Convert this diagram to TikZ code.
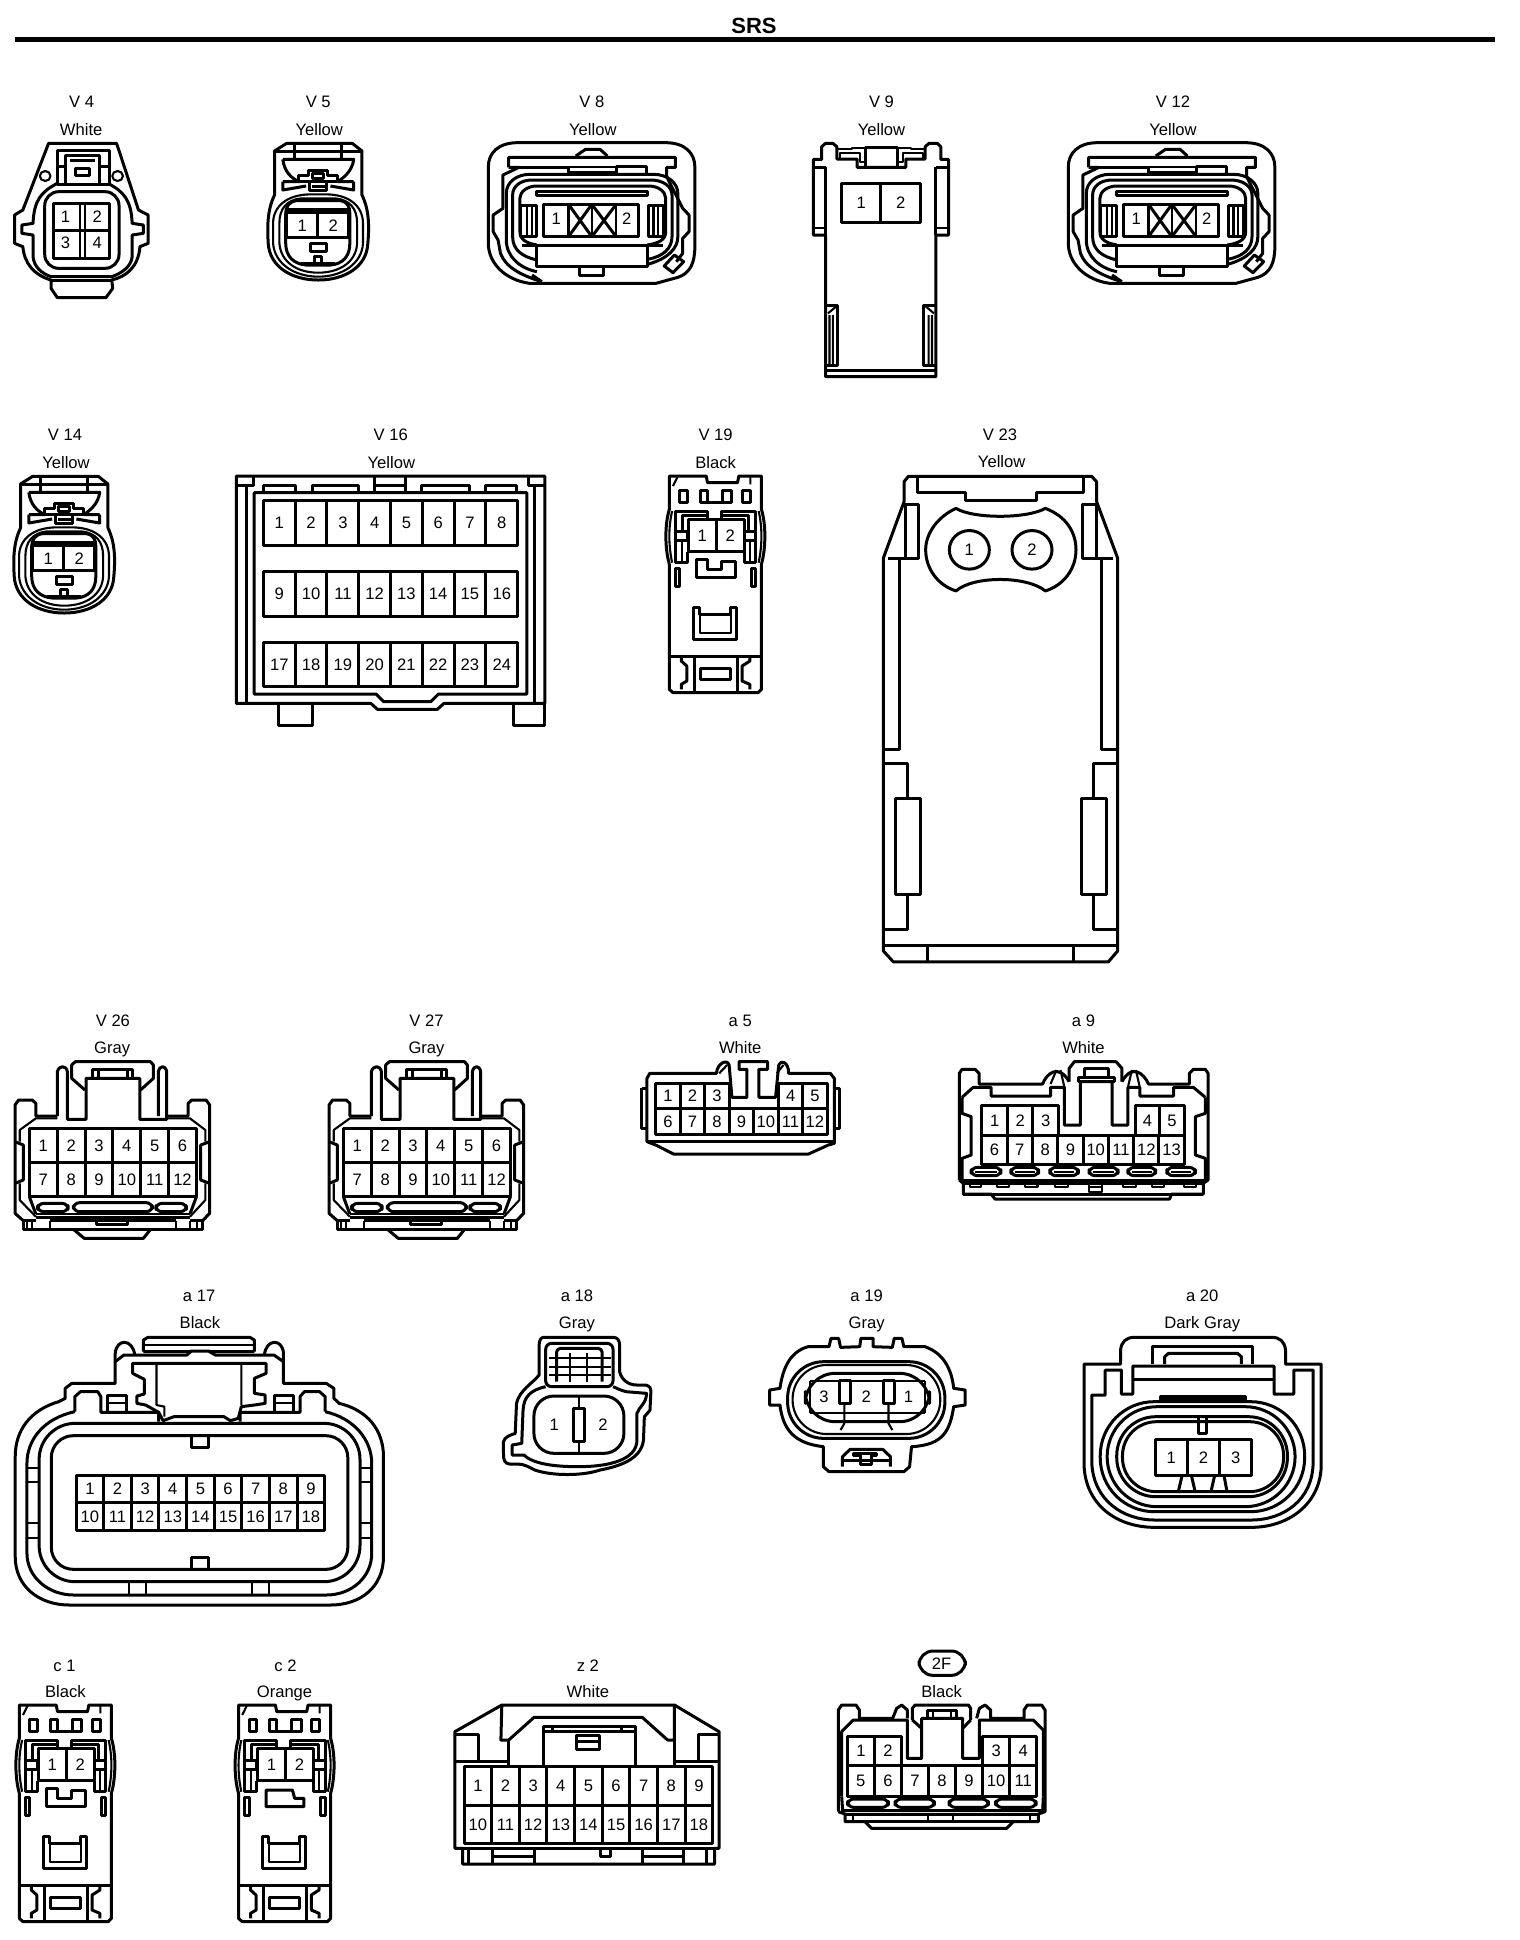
\documentclass[tikz,border=0pt]{standalone}
\usepackage{fontspec}
\setmainfont{Liberation Sans}
\newcounter{nid}
\tikzset{
 tx/.style={inner sep=0pt,text height=6pt,text depth=0pt,font=\fontsize{8.3}{10}\selectfont},
 ln/.style={line width=1.05pt},
 z1/.style={x=.24295pt,y=-.16667pt,yshift=-40pt},
 z2/.style={x=.24295pt,y=-.16667pt,xshift=380pt,yshift=-40pt},
 z3/.style={x=.25575pt,y=-.16667pt,yshift=-210pt},
 z4/.style={x=.16667pt,y=-.18182pt,xshift=430pt,yshift=-210pt},
 z5/.style={x=.17921pt,y=-.16667pt,yshift=-505pt},
 z6/.style={x=.19841pt,y=-.16667pt,xshift=310pt,yshift=-505pt},
 z7/.style={x=.21739pt,y=-.16667pt,yshift=-645pt},
 z8/.style={x=.19179pt,y=-.16667pt,xshift=380pt,yshift=-645pt},
 z9/.style={x=.23020pt,y=-.16667pt,yshift=-830pt},
 z10/.style={x=.16667pt,y=-.16667pt,xshift=410pt,yshift=-830pt},
}
\newcommand\txt[3]{\stepcounter{nid}\node[tx] (n\thenid) at ({#1},{#2}) {#3};}
\newcommand\cellrow[6]{%
 \draw (#1,#2) rectangle (#3,#4);
 \foreach \ii in {1,...,#5}{
  \pgfmathsetmacro\xa{#1+(#3-#1)*(\ii-1)/#5}
  \pgfmathsetmacro\xb{#1+(#3-#1)*\ii/#5}
  \pgfmathtruncatemacro\num{#6+\ii-1}
  \ifnum\ii>1 \draw (\xa,#2)--(\xa,#4);\fi
  \txt{(\xa+\xb)/2}{(#2+#4)/2}{\num}
 }}
% ---- shapes
\newcommand\connVEight{%
 \draw (1065,188)--(1370,188) .. controls (1410,188) and (1430,220) .. (1430,260)--(1430,500) .. controls (1430,550) and (1420,580) .. (1395,592)--(1350,610)--(1090,610) .. controls (1040,600) and (1005,550) .. (1005,490)--(1005,260) .. controls (1005,220) and (1025,188) .. (1065,188)--cycle;
 \draw (1185,228)--(1205,208)--(1235,208)--(1250,228);
 \draw (1047,262)--(1047,232)--(1390,232)--(1390,262)--(1372,262)--(1372,290)--(1405,385)--(1418,405)--(1418,455)--(1405,475)--(1405,520)--(1392,545);
 \draw (1047,262)--(1068,262)--(1035,285)--(1035,385)--(1015,405)--(1015,455)--(1025,480)--(1030,520) .. controls (1040,560) and (1070,585) .. (1115,605);
 \draw (1068,262)--(1170,262)--(1170,278)--(1268,278)--(1268,258)--(1330,258)--(1330,280);
 \draw[ln] (1170,262)--(1268,262);
 \draw (1105,575) .. controls (1070,565) and (1042,530) .. (1042,480)--(1042,340) .. controls (1042,305) and (1065,283) .. (1090,283)--(1345,283) .. controls (1375,283) and (1395,310) .. (1395,340)--(1395,470) .. controls (1395,505) and (1375,535) .. (1335,552);
 \draw (1105,540) .. controls (1075,530) and (1055,510) .. (1055,470)--(1055,345) .. controls (1055,320) and (1070,300) .. (1095,300)--(1340,300) .. controls (1365,300) and (1383,320) .. (1383,345)--(1383,470) .. controls (1383,505) and (1365,530) .. (1332,538);
 \draw (1105,495) .. controls (1085,490) and (1070,480) .. (1070,455)--(1070,355) .. controls (1070,335) and (1085,318) .. (1105,318)--(1335,318) .. controls (1355,318) and (1370,335) .. (1370,355)--(1370,455) .. controls (1370,480) and (1355,490) .. (1332,495);
 \draw (1105,335) rectangle (1332,347);
 \draw (1118,373) rectangle (1315,470);
 \draw[ln] (1170,373)--(1170,470) (1218,373)--(1218,470) (1268,373)--(1268,470);
 \draw (1170,373)--(1218,470) (1218,373)--(1170,470) (1218,373)--(1268,470) (1268,373)--(1218,470);
 \txt{1145}{415}{1}\txt{1290}{415}{2}
 \draw (1072,375) rectangle (1105,470);
 \draw[ln] (1085,375)--(1085,470) (1095,375)--(1095,470);
 \draw (1335,375) rectangle (1365,470);
 \draw[ln] (1345,375)--(1345,470) (1355,375)--(1355,470);
 \draw (1075,495)--(1365,495);
 \draw (1105,495) rectangle (1332,558);
 \draw (1192,560)--(1192,587)--(1242,587)--(1242,560);
 \draw (1388,525)--(1407,545)--(1385,578)--(1367,558)--cycle;
 \draw (1095,585)--(1115,605);
}
\newcommand\connVFive{%
 \draw (590,190)--(725,190)--(745,213)--(745,345) .. controls (760,390) and (760,440) .. (757,490) .. controls (755,560) and (710,600) .. (655,600) .. controls (600,600) and (555,560) .. (552,490) .. controls (550,440) and (550,390) .. (565,345)--(565,213)--cycle;
 \draw (607,190)--(607,238) (703,190)--(703,238) (565,213)--(745,213);
 \draw (582,238)--(728,238) .. controls (725,275) and (705,295) .. (695,305) (582,238) .. controls (585,275) and (600,295) .. (615,305);
 \draw (635,285)--(635,272)--(675,272)--(675,285)--(695,285)--(695,305)--(615,305)--(615,285)--cycle;
 \draw (643,280) rectangle (665,295);
 \draw (637,305)--(637,332)--(672,332)--(672,305) (642,318)--(668,318);
 \draw (582,305)--(582,330)--(630,318) (582,305)--(615,305) (728,305)--(728,330)--(680,318) (728,305)--(695,305);
 \draw[ln] (640,343) .. controls (590,343) and (562,380) .. (562,430)--(562,490) .. controls (565,550) and (605,590) .. (655,590) .. controls (705,590) and (745,550) .. (747,490)--(747,430) .. controls (747,380) and (720,343) .. (670,343)--cycle;
 \draw[ln] (620,355) .. controls (590,360) and (575,385) .. (575,430)--(575,490) .. controls (578,545) and (610,578) .. (655,578) .. controls (700,578) and (733,545) .. (735,490)--(735,430) .. controls (735,385) and (720,360) .. (690,355)--cycle;
 \draw (610,362)--(700,362) .. controls (715,365) and (720,380) .. (720,400)--(720,490) .. controls (720,530) and (705,552) .. (680,555)--(630,555) .. controls (605,552) and (588,530) .. (588,490)--(588,400) .. controls (588,380) and (595,365) .. (610,362)--cycle;
 \draw (590,388)--(718,388);
 \cellrow{590}{398}{718}{473}{2}{1}
 \draw (638,490) rectangle (672,515);
 \draw (648,545)--(648,530)--(662,530)--(662,545);
 \draw (620,550)--(690,550);
}
\newcommand\connClip[1]{%
 \draw (42,135)--(122,135)--(125,155)--(190,155)--(193,135)--(242,135)--(242,235) .. controls (252,280) and (252,350) .. (242,400)--(242,775)--(235,785)--(50,785)--(42,775)--(42,400) .. controls (32,350) and (32,280) .. (42,235)--cycle;
 \draw[ln] (60,137)--(50,165) (218,137)--(218,160);
 \draw (65,178) rectangle (82,215) (200,178) rectangle (218,215);
 \draw (125,215)--(110,215)--(110,178)--(125,178)--(125,215)--(157,215)--(157,178)--(178,178)--(178,215)--(157,215);
 \draw[ln] (48,240) .. controls (40,290) and (40,340) .. (48,395) (236,240) .. controls (244,290) and (244,340) .. (236,395);
 \draw (55,300)--(55,240)--(125,240)--(125,265) (155,265)--(155,240)--(230,240)--(230,300);
 \draw (70,300)--(70,252)--(125,252) (155,252)--(215,252)--(215,300);
 \cellrow{83}{265}{205}{362}{2}{1}
 \draw (55,300) rectangle (82,328) (205,300) rectangle (230,328);
 \draw (55,328)--(55,395)--(82,395)--(82,362) (205,362)--(205,395)--(230,395)--(230,328);
 \draw[ln] (70,328)--(70,395) (217,328)--(217,395);
 \ifnum#1=0
 \draw (100,385)--(125,385)--(125,415)--(155,415)--(155,390)--(185,390)--(185,440)--(100,440)--cycle;
 \else
 \draw (102,390)--(159,390)--(164,415)--(184,415)--(184,440)--(102,440)--cycle;
 \fi
 \draw (55,412) rectangle (65,465) (220,412) rectangle (230,465);
 \draw (95,530)--(108,530)--(108,550)--(175,550)--(175,530)--(188,530)--(188,625)--(95,625)--cycle;
 \draw[ln] (108,550)--(108,605)--(175,605)--(175,550);
 \draw (42,675)--(242,675);
 \draw (110,712) rectangle (175,745);
 \draw (97,678)--(97,780) (190,678)--(190,780);
 \draw (68,678)--(68,690)--(80,705)--(80,750)--(68,760)--(68,775);
 \draw (217,678)--(217,690)--(200,705)--(200,750)--(217,760)--(217,775);
}
\newcommand\connVTwoSix{%
 \draw (160,318)--(160,185) .. controls (165,165) and (185,165) .. (188,185)--(188,328)--(240,328)--(240,205)--(390,205)--(390,328)--(465,328)--(465,185) .. controls (462,165) and (445,165) .. (442,185)--(442,318);
 \draw (237,240)--(200,205)--(200,165)--(210,155)--(420,155)--(428,165)--(428,205)--(392,240);
 \draw (258,205)--(258,178)--(370,178)--(370,205) (275,178)--(275,205) (355,178)--(355,205);
 \draw (160,318)--(100,318)--(100,280)--(90,270)--(52,270)--(42,285)--(42,610)--(65,632);
 \draw (465,318)--(525,318)--(525,280)--(535,270)--(575,270)--(585,285)--(585,610)--(565,632);
 \draw (42,395)--(65,405)--(65,510)--(42,520) (585,395)--(560,405)--(560,510)--(585,520);
 \draw[ln] (55,395)--(55,360)--(100,325)--(160,325) (573,395)--(573,360)--(530,325)--(465,325);
 \draw[ln] (55,520)--(55,570)--(100,620) (573,520)--(573,570)--(530,620);
 \cellrow{82}{355}{548}{458}{6}{1}
 \cellrow{82}{458}{548}{560}{6}{7}
 \draw (82,560)--(100,612) (548,560)--(530,612);
 \draw[rounded corners=3pt] (105,580) rectangle (190,605) (205,578) rectangle (425,605) (435,580) rectangle (520,605);
 \draw[ln] (100,612)--(530,612);
 \draw (100,622)--(530,622);
 \draw (65,632)--(65,658)--(565,658)--(565,632) (65,632)--(100,632) (140,632)--(490,632) (530,632)--(565,632);
 \draw (205,658)--(235,685)--(400,685)--(420,658);
 \draw[ln] (75,632)--(75,658) (90,632)--(90,658) (140,632)--(140,658) (490,632)--(490,658) (530,632)--(530,658) (550,632)--(550,658);
 \draw (270,632)--(270,642)--(355,642)--(355,632);
}
\begin{document}
\begin{tikzpicture}[x=1pt,y=1pt,line width=1.5pt,line join=round]
\useasboundingbox (0,0) rectangle (760,-970);
\fill[white] (0,0) rectangle (760,-970);
\node[inner sep=0pt,font=\fontsize{11}{13}\selectfont\bfseries] (title) at (377,-13) {SRS};
\coordinate (ruleL) at (7.4,-19.8);
\coordinate (ruleR) at (747.5,-19.8);
\draw[line width=2.6pt] (ruleL)--(ruleR);

% ===== row 1
\begin{scope}[z1]
\txt{168}{63}{V 4}\txt{167}{147}{White}
\txt{655}{63}{V 5}\txt{657}{147}{Yellow}
\txt{1218}{63}{V 8}\txt{1220}{147}{Yellow}
% V4
\draw (100,190)--(240,190)--(285,390)--(305,405)--(305,490)--(288,500) .. controls (285,560) and (260,590) .. (230,600)--(232,625)--(218,653)--(118,653)--(105,625)--(105,600) .. controls (70,585) and (50,550) .. (47,500)--(30,490)--(30,405)--(47,390)--cycle;
\draw (118,310) .. controls (85,335) and (70,360) .. (68,430)--(45,435)--(45,460)--(68,465)--(68,530) .. controls (70,560) and (85,580) .. (105,590)--(230,590) .. controls (250,580) and (270,560) .. (272,530)--(272,465)--(295,460)--(295,435)--(272,430) .. controls (270,360) and (255,335) .. (222,310);
\draw (118,310)--(118,210)--(225,210)--(225,310);
\draw (135,312)--(135,225)--(205,225)--(205,312);
\draw (118,260)--(135,260) (205,260)--(225,260);
\draw (155,265)--(155,285)--(185,285)--(185,265)--cycle (145,240)--(195,240);
\draw (118,312)--(225,312);
\draw (105,600)--(230,600);
\draw[ln] (93,288) ellipse [x radius=11,y radius=15] (242,288) ellipse [x radius=11,y radius=15];
\draw[rounded corners=7pt] (92,335) rectangle (245,565);
\draw (110,370) rectangle (225,535);
\draw (110,450)--(225,450);
\draw[ln] (165,370)--(165,535) (175,370)--(175,535);
\txt{135}{408}{1}\txt{200}{408}{2}\txt{135}{488}{3}\txt{200}{488}{4}
\connVFive
\connVEight
\end{scope}
\begin{scope}[z1,xshift=290pt]
\connVEight
\end{scope}
\begin{scope}[z1,xshift=-127pt,yshift=-166.5pt]
\connVFive
\end{scope}

\begin{scope}[z2]
\txt{250}{63}{V 9}\txt{250}{147}{Yellow}
\txt{850}{63}{V 12}\txt{850}{147}{Yellow}
\draw (135,890)--(135,465)--(110,465)--(110,238)--(127,238)--(127,200)--(135,190)--(150,190)--(158,200)--(158,237)--(200,237)--(200,262)--(300,262)--(300,237)--(340,237)--(340,200)--(348,190)--(365,190)--(372,200)--(372,238)--(388,238)--(388,465)--(362,465)--(362,890)--cycle;
\draw (135,262)--(135,465) (362,262)--(362,465) (110,262)--(135,262) (362,262)--(388,262);
\draw[ln] (110,445)--(135,445) (362,445)--(388,445);
\draw (218,203) rectangle (283,262);
\draw[ln] (165,237)--(165,218)--(205,218)--(205,245)--(218,245) (158,207)--(190,207)--(190,205)--(218,205) (335,237)--(335,218)--(295,218)--(295,245)--(283,245) (340,207)--(310,207)--(310,205)--(283,205);
\cellrow{168}{310}{330}{427}{2}{1}
\draw (135,675)--(160,675)--(160,855)--(135,855) (362,675)--(337,675)--(337,855)--(362,855);
\draw[ln] (140,700)--(158,678) (143,705)--(143,855) (150,705)--(150,855) (358,700)--(340,678) (347,705)--(347,855) (354,705)--(354,855);
\draw (135,870)--(362,870);
\end{scope}

% ===== row 2
\begin{scope}[z3]
\txt{127}{43}{V 14}\txt{129}{127}{Yellow}
\txt{764}{43}{V 16}\txt{765}{127}{Yellow}
\txt{1399}{43}{V 19}\txt{1399}{127}{Black}
\draw (462,168)--(1065,168)--(1065,850)--(868,850)--(855,868)--(738,868)--(725,850)--(462,850)--cycle;
\draw (545,850)--(545,915)--(610,915)--(610,850) (1003,850)--(1003,915)--(1065,915)--(1065,850);
\draw (482,195)--(482,850) (1045,195)--(1045,850) (462,195)--(495,195)--(495,168) (1033,168)--(1033,195)--(1065,195);
\draw (497,218)--(1030,218)--(1030,822)--(857,822)--(842,845)--(750,845)--(735,822)--(497,822)--cycle;
\draw (515,218)--(515,195)--(578,195)--(578,218) (610,218)--(610,195)--(700,195)--(700,218) (733,168)--(733,218) (793,168)--(793,218) (733,195)--(793,195) (825,218)--(825,195)--(918,195)--(918,218) (950,218)--(950,195)--(1010,195)--(1010,218);
\cellrow{515}{240}{1012}{375}{8}{1}
\cellrow{515}{453}{1012}{588}{8}{9}
\cellrow{515}{666}{1012}{798}{8}{17}
\end{scope}
\begin{scope}[z9,xshift=325pt,yshift=614.5pt]
\connClip{0}
\end{scope}

\begin{scope}[z4]
\txt{420}{40}{V 23}\txt{425}{115}{Yellow}
\draw (145,155)--(695,155)--(710,170)--(710,225)--(773,380)--(773,1460)--(745,1490)--(100,1490)--(70,1460)--(70,380)--(132,225)--(132,170)--cycle;
\draw (172,155)--(172,200)--(315,200)--(315,222)--(530,222)--(530,200)--(670,200)--(670,155);
\draw (135,232) rectangle (175,382) (668,232) rectangle (708,382);
\draw (85,382)--(175,382) (668,382)--(758,382);
\draw (118,382)--(118,905)--(70,905) (725,382)--(725,905)--(773,905);
\draw (70,945)--(143,945)--(143,1042) (143,1305)--(143,1402)--(70,1402);
\draw (105,1042) rectangle (180,1305) (663,1042) rectangle (738,1305);
\draw (773,945)--(700,945)--(700,1042) (700,1305)--(700,1402)--(773,1402);
\draw (70,1445)--(773,1445) (203,1445)--(203,1490) (640,1445)--(640,1490);
\draw (288,243) .. controls (340,272) and (500,272) .. (556,243) .. controls (620,265) and (648,310) .. (648,357) .. controls (648,410) and (610,455) .. (556,470) .. controls (500,428) and (340,428) .. (288,470) .. controls (235,455) and (197,410) .. (197,357) .. controls (197,310) and (235,265) .. (288,243)--cycle;
\draw (328,357) ellipse [x radius=60,y radius=53] (516,357) ellipse [x radius=60,y radius=53];
\txt{328}{355}{1}\txt{516}{355}{2}
\end{scope}

% ===== row 3
\begin{scope}[z5]
\txt{315}{30}{V 26}\txt{313}{112}{Gray}
\txt{1190}{30}{V 27}\txt{1190}{112}{Gray}
\connVTwoSix
\end{scope}
\begin{scope}[z5,xshift=157pt]
\connVTwoSix
\end{scope}

\begin{scope}[z6]
\txt{303}{32}{a 5}\txt{303}{112}{White}
\txt{1168}{32}{a 9}\txt{1168}{112}{White}
% a5
\draw (68,205)--(75,190)--(243,190) .. controls (245,160) and (270,145) .. (275,165)--(282,262)--(320,262)--(320,178)--(300,178)--(300,155)--(372,155)--(372,178)--(350,178)--(350,262)--(392,262)--(400,165) .. controls (405,148) and (425,155) .. (425,190)--(530,190)--(540,205)--(540,400)--(525,405)--(475,432)--(135,432)--(90,405)--(68,395)--cycle;
\draw[ln] (250,190)--(270,165) (395,190)--(412,165);
\draw (55,235)--(68,235) (55,235)--(55,355)--(68,355) (540,235)--(553,235)--(553,355)--(540,355);
\draw (68,395)--(540,395);
\cellrow{90}{220}{275}{295}{3}{1}
\cellrow{400}{220}{522}{295}{2}{4}
\cellrow{90}{295}{522}{372}{7}{6}
% a9
\draw (855,510)--(855,190)--(862,178)--(895,178)--(905,190)--(905,222)--(1065,222) .. controls (1075,190) and (1105,160) .. (1132,215);
\draw (1132,215)--(1132,175)--(1145,155)--(1250,155)--(1265,175)--(1265,215);
\draw (1265,215) .. controls (1290,160) and (1320,190) .. (1332,222)--(1435,222)--(1435,190)--(1445,178)--(1475,178)--(1482,190)--(1482,510)--(1470,520)--(1470,552)--(1390,552)--(1385,567)--(945,567)--(935,552)--(865,552)--(865,520)--(855,510);
\draw (862,262)--(890,232)--(935,232)--(935,258)--(1085,258)--(1085,232)--(1120,232)--(1120,345)--(1160,345)--(1160,215)--(1240,215)--(1240,345)--(1280,345)--(1280,232)--(1310,232)--(1310,258)--(1395,258)--(1395,232)--(1445,232)--(1475,262);
\draw[ln] (1085,222)--(1100,180) (1110,180)--(1120,232) (1280,232)--(1290,180) (1300,180)--(1310,232);
\draw (1155,215)--(1155,203)--(1245,203)--(1245,215)--cycle (1170,203)--(1170,175)--(1230,175)--(1230,203);
\draw (862,262)--(862,310)--(885,320)--(885,435)--(862,445)--(862,510);
\draw (1475,262)--(1475,310)--(1450,320)--(1450,435)--(1475,445)--(1475,510);
\cellrow{912}{285}{1105}{375}{3}{1}
\cellrow{1298}{285}{1422}{375}{2}{4}
\cellrow{912}{375}{1422}{463}{8}{6}
\foreach \xl/\xr in {885/960,985/1055,1083/1155,1182/1255,1280/1350,1378/1450}{
 \draw[rounded corners=3pt] (\xl,472) rectangle (\xr,497);
 \draw[ln] (\xl+10,485)--(\xr-10,485);
}
\draw (855,510)--(1482,510) (865,520)--(1470,520) (865,552)--(1470,552);
\foreach \xl/\xr in {882/910,950/980,1020/1052,1097/1130,1268/1300,1340/1372,1422/1452}{
 \draw[ln] (\xl,520)--(\xl,532)--(\xr,532)--(\xr,520);
}
\draw[ln] (1183,520) rectangle (1215,545) (1183,532)--(1215,532);
\end{scope}

% ===== row 4
\begin{scope}[z7]
\txt{458}{15}{a 17}\txt{460}{98}{Black}
\txt{1327}{15}{a 18}\txt{1327}{98}{Gray}
% a17
\draw (265,280)--(165,280)--(150,295)--(150,325)--(135,335) .. controls (70,360) and (35,420) .. (35,500)--(35,800) .. controls (35,890) and (90,945) .. (160,945)--(760,945) .. controls (830,945) and (882,890) .. (882,800)--(882,500) .. controls (882,420) and (845,360) .. (780,340)--(768,325)--(768,295)--(750,280)--(652,280)--(652,215)--(630,195)--(495,195)--(480,183)--(440,183)--(430,195)--(285,195)--(265,215)--cycle;
\draw (265,215)--(265,190) .. controls (268,145) and (305,145) .. (310,195) (652,215)--(652,190) .. controls (650,145) and (612,145) .. (608,195);
\draw (330,185)--(330,150)--(340,142)--(575,142)--(585,150)--(585,185) (330,185)--(440,185) (480,185)--(585,185);
\draw[ln] (330,165)--(585,165);
\draw (172,365)--(172,320)--(185,305)--(225,305)--(232,320)--(232,367)--(365,367)--(365,395) (552,395)--(552,367)--(690,367)--(690,320)--(700,305)--(735,305)--(748,320)--(748,365);
\draw (172,365) .. controls (100,385) and (62,450) .. (62,520)--(62,790) .. controls (62,860) and (110,915) .. (170,915)--(750,915) .. controls (810,915) and (855,860) .. (855,790)--(855,520) .. controls (855,450) and (815,385) .. (748,365);
\draw[rounded corners=18pt] (90,400) rectangle (828,875);
\draw[rounded corners=11pt] (118,437) rectangle (800,838);
\draw (440,437)--(440,472)--(480,472)--(480,437) (440,838)--(440,803)--(480,803)--(480,838);
\cellrow{175}{555}{747}{638}{9}{1}
\cellrow{175}{638}{747}{722}{9}{10}
\draw (305,220)--(305,250)--(332,268)--(332,312)--(315,318)--(315,340)--(335,345)--(365,367)--(375,392)--(400,380)--(515,380)--(530,392)--(548,385)--(555,350)--(585,345)--(610,340)--(610,315)--(585,310)--(585,265)--(612,250)--(612,220)--cycle;
\draw[ln] (360,222)--(360,345)--(378,350)--(378,380) (555,222)--(555,345);
\draw (248,365)--(248,315)--(290,315)--(290,365) (632,365)--(632,315)--(675,315)--(675,365);
\draw[ln] (248,340)--(290,340) (632,340)--(675,340);
\draw[ln] (62,535)--(90,535) (62,575)--(90,575) (62,700)--(90,700) (62,745)--(90,745) (828,535)--(855,535) (828,575)--(855,575) (828,700)--(855,700) (828,745)--(855,745);
\draw[ln] (297,875)--(297,915) (335,875)--(335,915) (580,875)--(580,915) (618,875)--(618,915);
% a18
\draw (1250,142)--(1410,142) .. controls (1420,142) and (1425,150) .. (1425,165)--(1425,245) .. controls (1430,270) and (1445,285) .. (1465,285)--(1485,285) .. controls (1495,288) and (1497,295) .. (1497,305)--(1495,360) .. controls (1492,370) and (1485,372) .. (1482,380)--(1480,450) .. controls (1475,510) and (1420,530) .. (1380,540) .. controls (1340,558) and (1270,558) .. (1230,540) .. controls (1215,530) and (1205,522) .. (1190,522)--(1172,522) .. controls (1160,520) and (1158,510) .. (1158,490)--(1158,455) .. controls (1160,440) and (1175,435) .. (1185,430)--(1188,340) .. controls (1195,300) and (1225,280) .. (1240,255)--(1240,165) .. controls (1240,150) and (1245,142) .. (1250,142)--cycle;
\draw[rounded corners=3pt] (1255,290)--(1255,160)--(1410,160)--(1410,290)--cycle;
\draw[rounded corners=2pt] (1280,275)--(1280,175)--(1385,175)--(1385,275);
\draw[ln] (1262,205)--(1405,205) (1262,230)--(1405,230) (1262,255)--(1405,255) (1312,190)--(1312,275) (1350,190)--(1350,275);
\draw (1255,290) .. controls (1220,300) and (1205,320) .. (1203,360)--(1200,460)--(1178,465)--(1178,495)--(1205,495) .. controls (1225,520) and (1270,530) .. (1330,530) .. controls (1400,530) and (1465,510) .. (1465,450)--(1465,370) .. controls (1470,350) and (1487,340) .. (1487,310)--(1440,305) .. controls (1425,300) and (1420,295) .. (1410,290);
\draw[rounded corners=10pt] (1228,318) rectangle (1435,490);
\draw (1320,355) rectangle (1345,453);
\draw[ln] (1332,320)--(1332,355) (1332,453)--(1332,490);
\txt{1275}{402}{1}\txt{1387}{402}{2}
\end{scope}

\begin{scope}[z8]
\txt{278}{15}{a 19}\txt{278}{98}{Gray}
\txt{1153}{15}{a 20}\txt{1153}{98}{Dark Gray}
% a19
\draw (125,170)--(180,170)--(185,145)--(205,145)--(210,172)--(260,170)--(263,145)--(295,145)--(295,170)--(345,172)--(350,145)--(370,145)--(375,170)--(430,170) .. controls (480,190) and (500,240) .. (505,295)--(535,300)--(535,345)--(505,350) .. controls (495,420) and (480,465) .. (395,470)--(390,530)--(375,545)--(180,545)--(165,530)--(165,470) .. controls (90,460) and (60,420) .. (52,345)--(25,345)--(25,300)--(52,295) .. controls (60,230) and (80,185) .. (125,170)--cycle;
\draw[rounded corners=18pt] (72,215) rectangle (482,445);
\draw[ln,rounded corners=17pt] (85,225) rectangle (470,432);
\draw[rounded corners=15pt] (118,250) rectangle (442,395);
\draw[ln] (130,272)--(430,272) (130,370)--(430,370) (130,272)--(130,370) (430,272)--(430,370);
\draw (207,272) rectangle (235,340) (322,272) rectangle (350,340);
\draw[ln] (220,340)--(220,400)--(210,420) (335,340)--(335,400)--(345,420);
\txt{167}{320}{3}\txt{277}{320}{2}\txt{387}{320}{1}
\draw (215,530)--(215,500)--(235,478)--(320,478)--(340,500)--(340,530);
\draw (215,510)--(340,510);
\draw (245,490)--(305,490)--(305,497)--(290,497)--(290,522)--(262,522)--(262,497)--(245,497)--cycle;
% a20
\draw (845,222)--(940,222)--(940,180) .. controls (942,155) and (955,142) .. (975,142)--(1335,142) .. controls (1355,142) and (1368,155) .. (1370,180)--(1370,222)--(1463,222)--(1463,530) .. controls (1460,640) and (1380,712) .. (1280,712)--(1030,712) .. controls (925,712) and (850,640) .. (845,530)--cycle;
\draw (942,240)--(900,240)--(900,315)--(865,315)--(865,520) .. controls (870,630) and (945,690) .. (1030,690)--(1280,690) .. controls (1365,690) and (1440,630) .. (1442,520)--(1442,240)--(1392,240)--(1392,312)--(1340,312)--(1340,228)--(972,228)--(972,312)--(942,312)--cycle;
\draw (972,268)--(1340,268);
\draw (1022,222)--(1022,168)--(1285,168)--(1285,222);
\draw (1055,222)--(1055,200)--(1065,190)--(1245,190)--(1255,200)--(1255,222);
\draw (1045,318) rectangle (1265,328);
\draw[rounded corners=27pt] (887,335) rectangle (1420,665);
\draw[rounded corners=25pt] (905,350) rectangle (1395,650);
\draw[rounded corners=19.5pt] (930,380) rectangle (1375,620);
\draw[rounded corners=17pt] (945,395) rectangle (1365,605);
\draw (1142,382)--(1142,430)--(1165,430)--(1165,382);
\cellrow{1030}{447}{1282}{555}{3}{1}
\draw (1090,608)--(1100,558) (1135,608)--(1125,558) (1175,608)--(1185,558) (1218,608)--(1210,558);
\end{scope}

% ===== row 5
\begin{scope}[z9]
\txt{140}{15}{c 1}\txt{142}{95}{Black}
\txt{620}{15}{c 2}\txt{618}{95}{Orange}
\txt{1277}{15}{z 2}\txt{1277}{95}{White}
\connClip{0}
\draw (1090,135)--(1465,135)--(1562,215)--(1562,565)--(1552,565)--(1552,612)--(1005,612)--(1005,565)--(988,565)--(988,215)--cycle;
\draw (1090,135)--(1088,240)--(1105,240)--(1160,172)--(1395,172)--(1450,240)--(1465,240)--(1465,135);
\draw (1105,240)--(1105,320) (1465,240)--(1465,320);
\draw (988,222)--(1040,222)--(1040,305) (1517,305)--(1517,222)--(1562,222) (988,305)--(1105,305) (1465,305)--(1562,305);
\draw (1180,315)--(1180,198)--(1380,198)--(1380,315) (1180,215)--(1380,215);
\draw[ln] (1200,198)--(1200,215) (1350,198)--(1350,215);
\draw (1252,225) rectangle (1302,268) (1252,245)--(1302,245);
\cellrow{1008}{320}{1548}{435}{9}{1}
\cellrow{1008}{435}{1548}{550}{9}{10}
\draw (988,565)--(1562,565);
\draw (1018,565)--(1018,612) (1070,565)--(1070,612) (1160,565)--(1160,612) (1070,588)--(1160,588) (1395,565)--(1395,612) (1485,565)--(1485,612) (1395,588)--(1485,588) (1535,565)--(1535,612);
\draw (1305,565)--(1305,590)--(1325,590)--(1325,565);
\end{scope}
\begin{scope}[z9,xshift=109.6pt]
\connClip{1}
\end{scope}

\begin{scope}[z10]
\draw[rounded corners=7pt] (297,-27) rectangle (436,46);
\txt{365}{10}{2F}\txt{365}{95}{Black}
\draw (55,455)--(55,150)--(65,135)--(108,135)--(118,150)--(118,175)--(218,175)--(230,145)--(245,135)--(262,150)--(262,175);
\draw (277,180)--(277,145)--(285,135)--(445,135)--(452,145)--(452,180);
\draw (470,175)--(478,145)--(495,135)--(512,150)--(512,175)--(612,175)--(612,150)--(622,135)--(665,135)--(675,150)--(675,455)--(655,462)--(655,485)--(580,485)--(560,505)--(155,505)--(135,485)--(75,485)--(75,462)--(55,455);
\draw (65,410)--(65,215)--(100,180)--(262,180)--(262,295)--(305,295)--(305,175)--(428,175)--(428,295)--(478,295)--(478,180)--(640,180)--(670,210)--(670,410);
\draw (277,180)--(305,205) (452,180)--(428,205);
\draw (322,175)--(322,152)--(410,152)--(410,175);
\draw[ln] (340,152)--(340,175) (392,152)--(392,175);
\cellrow{82}{228}{245}{315}{2}{1}
\cellrow{488}{228}{650}{315}{2}{3}
\cellrow{82}{315}{650}{408}{7}{5}
\draw[rounded corners=3pt] (83,417) rectangle (205,442) (225,417) rectangle (343,442) (387,417) rectangle (505,442) (527,417) rectangle (648,442);
\draw (65,410)--(68,452)--(668,452)--(670,410);
\draw (75,462)--(655,462) (75,485)--(655,485);
\draw[ln] (100,462)--(100,485) (325,462)--(325,485) (400,462)--(400,485) (630,462)--(630,485);
\end{scope}
\end{tikzpicture}
\end{document}
